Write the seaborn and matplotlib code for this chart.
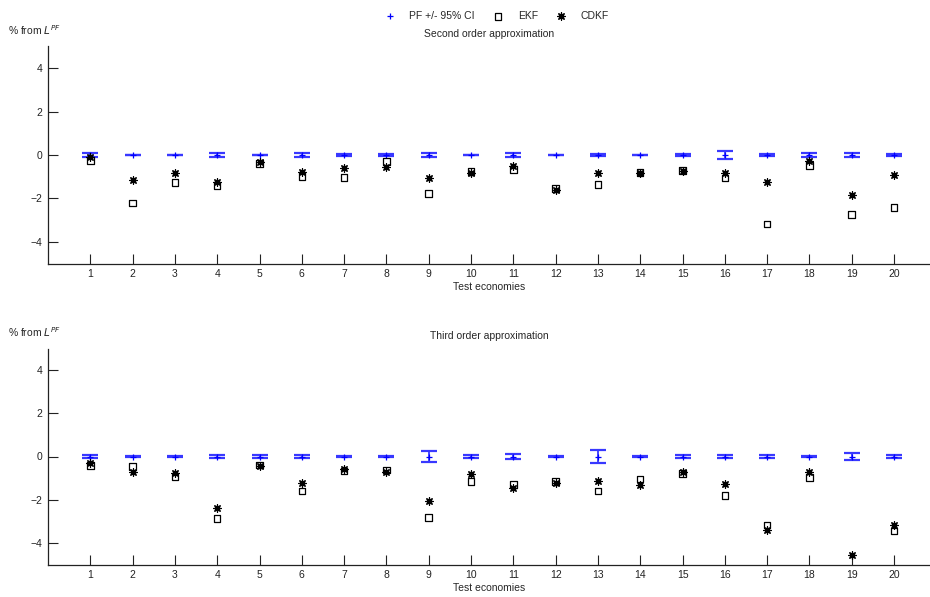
import numpy as np
import pandas as pd
import matplotlib
matplotlib.use("Agg")
import matplotlib.pyplot as plt
import seaborn as sns

# test economies 1..20
economies = list(range(1, 21))

# second order approximation (% from L^PF)
ekf_2nd = [-0.26, -2.22, -1.26, -1.40, -0.38, -1.00, -1.03, -0.31, -1.77, -0.77,
           -0.66, -1.54, -1.35, -0.80, -0.72, -1.05, -3.17, -0.48, -2.75, -2.43]
cdkf_2nd = [-0.08, -1.15, -0.82, -1.23, -0.34, -0.80, -0.58, -0.54, -1.08, -0.82,
            -0.51, -1.62, -0.85, -0.85, -0.75, -0.85, -1.25, -0.28, -1.84, -0.92]
pf_ci_2nd = [0.09, 0.02, 0.02, 0.08, 0.02, 0.07, 0.03, 0.04, 0.10, 0.02,
             0.07, 0.02, 0.06, 0.02, 0.05, 0.20, 0.06, 0.07, 0.10, 0.05]

# third order approximation (EKF for economy 19 falls below the axis)
ekf_3rd = [-0.42, -0.47, -0.96, -2.87, -0.39, -1.60, -0.68, -0.62, -2.82, -1.15,
           -1.30, -1.16, -1.60, -1.04, -0.78, -1.81, -3.18, -0.98, np.nan, -3.46]
cdkf_3rd = [-0.29, -0.71, -0.78, -2.37, -0.42, -1.22, -0.56, -0.71, -2.08, -0.81,
            -1.46, -1.24, -1.12, -1.30, -0.74, -1.29, -3.38, -0.73, -4.54, -3.18]
pf_ci_3rd = [0.09, 0.02, 0.02, 0.07, 0.08, 0.07, 0.03, 0.02, 0.26, 0.06,
             0.12, 0.02, 0.31, 0.02, 0.06, 0.09, 0.09, 0.02, 0.14, 0.09]

titles = ["Second order approximation", "Third order approximation"]

sns.set_style("ticks")
plt.rcParams["font.family"] = ["Liberation Sans", "DejaVu Sans"]
fs = 7.5
plt.rcParams["font.size"] = fs

fig = plt.figure(figsize=(9.3, 5.97), dpi=100)
ax1 = fig.add_axes([48 / 930, 1 - 263.5 / 597, 882 / 930, 217 / 597])
ax2 = fig.add_axes([48 / 930, 1 - 564.5 / 597, 882 / 930, 216 / 597])

panels = [(ax1, ekf_2nd, cdkf_2nd, pf_ci_2nd), (ax2, ekf_3rd, cdkf_3rd, pf_ci_3rd)]
for i, (ax, ekf, cdkf, ci) in enumerate(panels):
    df = pd.DataFrame({"economy": economies, "EKF": ekf, "CDKF": cdkf,
                       "PF": np.zeros(20), "ci": ci})
    # PF estimate with its 95% confidence band
    ax.errorbar(df["economy"], df["PF"], yerr=df["ci"], fmt="none",
                ecolor="#3838ff", elinewidth=1.3, capsize=6, capthick=1.6, zorder=3)
    sns.scatterplot(data=df, x="economy", y="PF", marker="+", s=18,
                    color="blue", linewidth=0.9, label="PF +/- 95% CI", ax=ax, zorder=4)
    sns.scatterplot(data=df, x="economy", y="EKF", marker="s", s=22,
                    facecolor="none", edgecolor="black", linewidth=0.9,
                    label="EKF", ax=ax, zorder=5)
    sns.scatterplot(data=df, x="economy", y="CDKF", marker=(8, 2, 0), s=28,
                    color="black", linewidth=0.9, label="CDKF", ax=ax, zorder=6)
    ax.set_xlim(0, 20.85)
    ax.set_ylim(-5, 5)
    ax.set_xticks(economies)
    ax.set_yticks([-4, -2, 0, 2, 4])
    ax.tick_params(direction="in", length=7, width=0.8, colors="#222222",
                   labelcolor="#222222", labelsize=fs, pad=4)
    for side in ["top", "right"]:
        ax.spines[side].set_visible(False)
    for side in ["left", "bottom"]:
        ax.spines[side].set_color("#222222")
        ax.spines[side].set_linewidth(0.9)
    ax.set_xlabel("Test economies", fontsize=fs, labelpad=2)
    ax.set_ylabel("")
    ax.set_title(titles[i], fontsize=fs, pad=7)
    ax.text(-40 / 42.3, 5.74, "% from $L^{PF}$", fontsize=fs, ha="left", va="center")
    if i == 0:
        handles, labels = ax.get_legend_handles_labels()
        ax.legend(handles, labels, loc="center", bbox_to_anchor=(0.508, 1.14),
                  ncol=3, frameon=False, fontsize=fs, handletextpad=1.3,
                  columnspacing=1.6, handlelength=1.2)
    else:
        if ax.get_legend() is not None:
            ax.get_legend().remove()

fig.savefig("out.png", dpi=100)
